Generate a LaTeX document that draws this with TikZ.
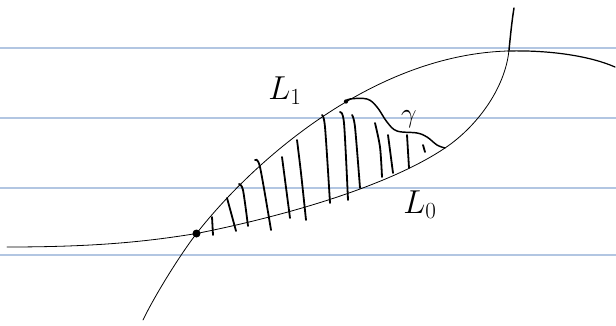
\documentclass[tikz,border=0pt]{standalone}
\definecolor{rulecol}{RGB}{178,198,226}
\tikzset{
  rule/.style={rulecol, line width=1pt},
  thincurve/.style={black, line width=0.6pt, line cap=round, line join=round},
  hatch/.style={black, line width=1.35pt, line cap=round},
  gammacurve/.style={black, line width=1.1pt, line cap=round},
  lbl/.style={inner sep=0pt, font=\fontsize{24}{24}\selectfont},
}
\begin{document}
\begin{tikzpicture}[x=0.75pt,y=-0.75pt]
\useasboundingbox (0,0) rectangle (616,325);
% ruled lines
\foreach \yy in {48,118,188,255}{
  \draw[rule] (0,\yy) -- (616,\yy);
}
% named points
\coordinate (L0s) at (7,247);
\coordinate (P) at (196.5,233.5);
\coordinate (E) at (445,148);
\coordinate (T) at (509,50);
\coordinate (L0e) at (514,8);
\coordinate (L1s) at (143,320);
\coordinate (M) at (508,51);
\coordinate (L1e) at (615,67);
% L0 curve
\draw[thincurve] (L0s) .. controls (100,247) and (150,241) .. (P)
  .. controls (290,215) and (390,185) .. (E)
  .. controls (475,128) and (505,90) .. (T);
\draw[black, line width=1.1pt, line cap=round] (T) .. controls (510.5,35) and (512,20) .. (L0e);
% L1 curve
\draw[thincurve] (L1s) .. controls (155,295) and (180,255) .. (P)
  .. controls (250,165) and (370,55) .. (M);
\draw[black, line width=0.9pt, line cap=round] (M) .. controls (550,50) and (590,56) .. (L1e);
% intersection point
\fill (P) circle (3pt);
% gamma
\coordinate (G0) at (345,102);
\draw[gammacurve] plot[smooth, tension=0.6] coordinates {
  (345,102) (350,99) (367,99) (377,107) (387,122) (397,131) (417,133)
  (427,137) (437,145) (445,148)};
\fill (346,101.5) circle (1.6pt);
% hatching
\draw[hatch] (212,217) -- (213,235);
\draw[hatch] (227,198) -- (236,231);
\draw[hatch] plot[smooth] coordinates {(239,184) (243,190) (248,226)};
\draw[hatch] plot[smooth] coordinates {(255,160) (260,167) (271,230)};
\draw[hatch] (282,157) -- (290,218);
\draw[hatch] plot[smooth] coordinates {(297,140) (301,173) (306,220)};
\draw[hatch] plot[smooth] coordinates {(322,115) (325,127) (330,203)};
\draw[hatch] plot[smooth] coordinates {(340,112) (344,123) (348,200)};
\draw[hatch] plot[smooth] coordinates {(352,115) (355,127) (360,188)};
\draw[hatch] plot[smooth] coordinates {(375,123) (380,147) (382,177)};
\draw[hatch] (388,135) -- (393,173);
\draw[hatch] (407,135) -- (409,168);
\draw[hatch] (423,145) -- (425,152);
% labels
\node[lbl] (L1) at (285,91) {$L_{1}$};
\node[lbl, font=\fontsize{22}{22}\selectfont] (g) at (409,119) {$\gamma$};
\node[lbl] (L0) at (420,205) {$L_{0}$};
\end{tikzpicture}
\end{document}
